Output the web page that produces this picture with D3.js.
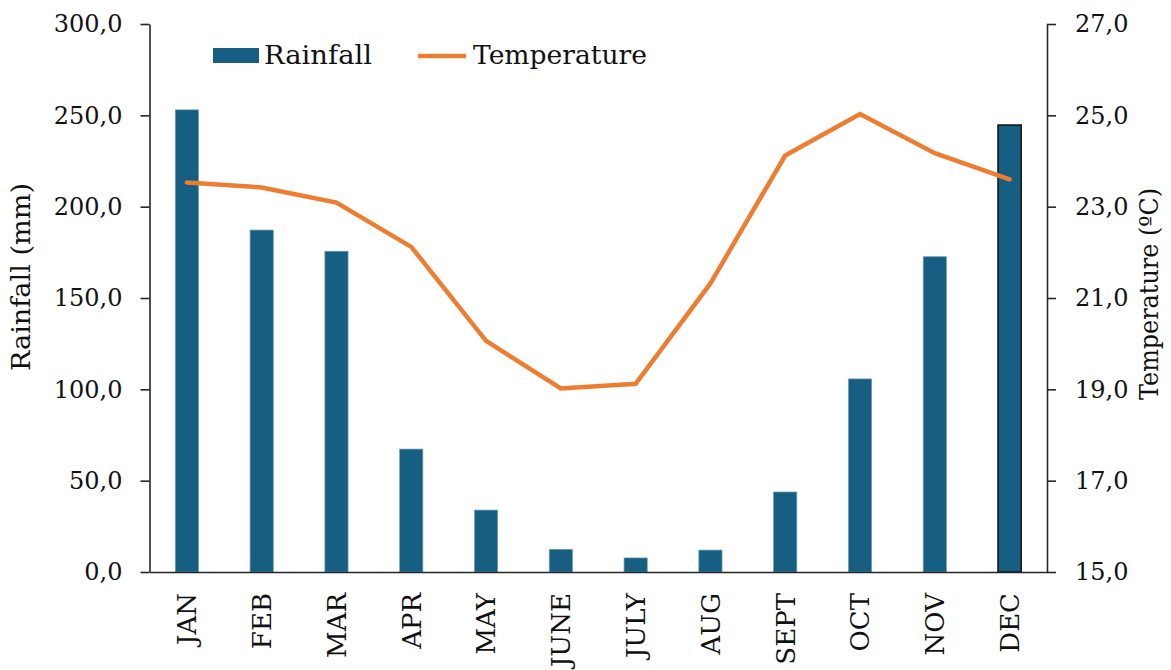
<!DOCTYPE html>
<html>
<head>
<meta charset="utf-8">
<script src="https://cdn.jsdelivr.net/npm/d3@7"></script>
<style>
  html, body { margin: 0; padding: 0; background: #fff; }
  svg { display: block; font-family: "DejaVu Serif", "Liberation Serif", serif; }
</style>
</head>
<body>
<svg id="chart" width="1171" height="670"></svg>
<script>
const months = ["JAN","FEB","MAR","APR","MAY","JUNE","JULY","AUG","SEPT","OCT","NOV","DEC"];
const rainfall = [253.0, 187.2, 175.6, 67.3, 33.9, 12.4, 7.7, 12.0, 43.8, 105.7, 172.6, 244.7];
const temperature = [23.53, 23.42, 23.09, 22.12, 20.06, 19.02, 19.12, 21.32, 24.12, 25.03, 24.17, 23.60];
const rainTicks = [0, 50, 100, 150, 200, 250, 300];
const tempTicks = [15, 17, 19, 21, 23, 25, 27];
const seriesNames = ["Rainfall", "Temperature"];
const yTitleLeft = "Rainfall (mm)";
const yTitleRight = "Temperature (ºC)";

const svg = d3.select("#chart");
const L = 149.5, R = 1047, T = 24, B = 572;
const barColor = "#175f82", lineColor = "#ed7d31", axisColor = "#262626";
const fmt = v => d3.format(".1f")(v).replace(".", ",");

const x = d3.scaleBand().domain(months).range([L, R]).paddingInner(0.69).paddingOuter(0.345);
const yL = d3.scaleLinear().domain([0, 300]).range([B, T]);
const yR = d3.scaleLinear().domain([15, 27]).range([B, T]);

// bars
svg.append("g").selectAll("rect").data(rainfall).join("rect")
  .attr("x", (d, i) => x(months[i]))
  .attr("y", d => yL(d))
  .attr("width", x.bandwidth())
  .attr("height", d => yL(0) - yL(d))
  .attr("fill", barColor)
  .attr("stroke", (d, i) => i === months.length - 1 ? "#111" : "#6f9db6")
  .attr("stroke-width", (d, i) => i === months.length - 1 ? 1.5 : 0.7);

// line
const line = d3.line().x((d, i) => x(months[i]) + x.bandwidth() / 2).y(d => yR(d));
svg.append("path").datum(temperature)
  .attr("d", line)
  .attr("fill", "none")
  .attr("stroke", lineColor)
  .attr("stroke-width", 4.5)
  .attr("stroke-linecap", "round")
  .attr("stroke-linejoin", "miter");

// axes
function styleAxis(g, anchor) {
  g.selectAll(".domain").attr("stroke", axisColor).attr("stroke-width", 1.6);
  g.selectAll(".tick line").attr("stroke", axisColor).attr("stroke-width", 1.6);
  g.selectAll(".tick text").attr("fill", "#111").attr("font-size", 24)
    .attr("font-family", "DejaVu Serif");
}
const gL = svg.append("g").attr("transform", `translate(${L},0)`)
  .call(d3.axisLeft(yL).tickValues(rainTicks).tickFormat(fmt).tickSize(9).tickSizeOuter(0).tickPadding(18));
styleAxis(gL);
const gR = svg.append("g").attr("transform", `translate(${R},0)`)
  .call(d3.axisRight(yR).tickValues(tempTicks).tickFormat(fmt).tickSize(9).tickSizeOuter(0).tickPadding(19));
styleAxis(gR);
const gX = svg.append("g").attr("transform", `translate(0,${B})`)
  .call(d3.axisBottom(x).tickSize(0).tickSizeOuter(0).tickFormat(""));
gX.selectAll(".domain").attr("stroke", axisColor).attr("stroke-width", 1.6);

// month labels
svg.append("g").selectAll("text").data(months).join("text")
  .attr("transform", d => `translate(${x(d) + x.bandwidth() / 2},593) rotate(-90)`)
  .attr("text-anchor", "end")
  .attr("dy", "0.36em")
  .attr("font-size", 26)
  .attr("fill", "#111")
  .text(d => d);

// axis titles
svg.append("text")
  .attr("transform", "translate(30,277) rotate(-90)")
  .attr("text-anchor", "middle")
  .attr("font-size", 26)
  .attr("fill", "#111")
  .attr("textLength", 188).attr("lengthAdjust", "spacingAndGlyphs")
  .text(yTitleLeft);
svg.append("text")
  .attr("transform", "translate(1158,294) rotate(-90)")
  .attr("text-anchor", "middle")
  .attr("font-size", 26)
  .attr("fill", "#111")
  .attr("textLength", 212).attr("lengthAdjust", "spacingAndGlyphs")
  .text(yTitleRight);

// legend
const lg = svg.append("g");
lg.append("rect").attr("x", 213).attr("y", 48).attr("width", 46).attr("height", 15).attr("fill", barColor);
lg.append("text").attr("x", 264).attr("y", 64).attr("font-size", 26).attr("fill", "#111")
  .attr("textLength", 108).attr("lengthAdjust", "spacingAndGlyphs").text(seriesNames[0]);
lg.append("line").attr("x1", 418).attr("x2", 466).attr("y1", 56).attr("y2", 56)
  .attr("stroke", lineColor).attr("stroke-width", 4.5);
lg.append("text").attr("x", 473).attr("y", 64).attr("font-size", 26).attr("fill", "#111")
  .attr("textLength", 174).attr("lengthAdjust", "spacingAndGlyphs").text(seriesNames[1]);
</script>
</body>
</html>
